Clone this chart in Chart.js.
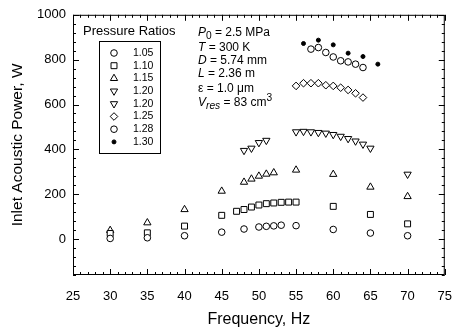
<!DOCTYPE html>
<html lang="en">
<head>
<meta charset="UTF-8">
<title>Inlet Acoustic Power vs Frequency</title>
<script src="https://cdn.jsdelivr.net/npm/chart.js"></script>
<style>
  body { margin: 0; background: #fff; }
  #wrap { width: 466px; height: 331px; }
</style>
</head>
<body>
<div id="wrap"><canvas id="powerChart"></canvas></div>
<script>
// data
const ratioLabels = ['1.05', '1.10', '1.15', '1.20', '1.20', '1.25', '1.28', '1.30'];

const freq105 = [30, 35, 40, 45, 48, 50, 51, 52, 53, 55, 60, 65, 70];
const power105 = [3, 6, 15, 31, 45, 54, 57, 59, 62, 60, 43, 27, 15];

const freq110 = [30, 35, 40, 45, 47, 48, 49, 50, 51, 52, 53, 54, 55, 60, 65, 70];
const power110 = [25, 28, 58, 106, 124, 132, 143, 152, 158, 161, 164, 165, 165, 146, 110, 68];

const freq115 = [30, 35, 40, 45, 48, 49, 50, 51, 52, 55, 60, 65, 70];
const power115 = [39, 73, 132, 214, 254, 268, 281, 290, 296, 308, 289, 232, 190];

const freq120a = [48, 49, 50, 51, 70];
const power120a = [395, 405, 430, 440, 289];

const freq120b = [55, 56, 57, 58, 59, 60, 61, 62, 63, 64, 65];
const power120b = [478, 480, 478, 475, 472, 466, 458, 448, 437, 423, 405];

const freq125 = [55, 56, 57, 58, 59, 60, 61, 62, 63, 64];
const power125 = [683, 695, 695, 695, 686, 683, 675, 665, 650, 631];

const freq128 = [57, 58, 59, 60, 61, 62, 63, 64];
const power128 = [847, 854, 832, 812, 795, 790, 780, 765];

const freq130 = [56, 58, 60, 62, 64, 66];
const power130 = [872, 887, 866, 829, 814, 780];

const yTickValues = [0, 200, 400, 600, 800, 1000];

const FONT = "'Liberation Sans', Arial, sans-serif";

function pts(xs, ys) {
  return xs.map((x, i) => ({ x: x, y: ys[i] }));
}

function series(label, xs, ys, style, radius, rotation, filled) {
  return {
    label: label,
    data: pts(xs, ys),
    showLine: false,
    pointStyle: style,
    pointRadius: radius,
    pointRotation: rotation || 0,
    pointBorderWidth: 1,
    pointBorderColor: '#000',
    pointBackgroundColor: filled ? '#000' : '#fff'
  };
}

const datasets = [
  series(ratioLabels[0], freq105, power105, 'circle', 3.3),
  series(ratioLabels[1], freq110, power110, 'rect', 4.2),
  series(ratioLabels[2], freq115, power115, 'triangle', 4.2),
  series(ratioLabels[3], freq120a, power120a, 'triangle', 4.2, 180),
  series(ratioLabels[4], freq120b, power120b, 'triangle', 4.2, 180),
  series(ratioLabels[5], freq125, power125, 'rectRot', 3.8),
  series(ratioLabels[6], freq128, power128, 'circle', 3.3),
  series(ratioLabels[7], freq130, power130, 'circle', 2, 0, true)
];

// inward ticks on all four sides plus the frame
const frameTicks = {
  id: 'frameTicks',
  afterDraw(chart) {
    const ctx = chart.ctx, a = chart.chartArea;
    const xs = chart.scales.x, ys = chart.scales.y;
    ctx.save();
    ctx.strokeStyle = '#000';
    ctx.lineWidth = 1;
    ctx.strokeRect(a.left + 0.5, a.top + 0.5, a.right - a.left - 1, a.bottom - a.top - 1);
    ctx.beginPath();
    for (let f = 25; f <= 75; f++) {
      const px = Math.round(xs.getPixelForValue(f)) + 0.5;
      const len = f % 5 === 0 ? 6 : 3;
      ctx.moveTo(px, a.bottom); ctx.lineTo(px, a.bottom - len);
      ctx.moveTo(px, a.top); ctx.lineTo(px, a.top + len);
    }
    for (let v = -160; v <= 1000; v += 40) {
      const py = Math.round(ys.getPixelForValue(v)) + 0.5;
      const len = v % 200 === 0 ? 6 : 3;
      ctx.moveTo(a.left, py); ctx.lineTo(a.left + len, py);
      ctx.moveTo(a.right, py); ctx.lineTo(a.right - len, py);
    }
    ctx.stroke();
    ctx.restore();
  }
};

// draws a line of text made of pieces (italic / subscript / superscript)
function richLine(ctx, x, y, parts, size) {
  let cx = x;
  parts.forEach(p => {
    const fs = p.sub || p.sup ? size * 0.85 : size;
    ctx.font = (p.it ? 'italic ' : '') + fs + 'px ' + FONT;
    const dy = p.sub ? size * 0.3 : (p.sup ? -size * 0.4 : 0);
    ctx.fillText(p.t, cx, y + dy);
    cx += ctx.measureText(p.t).width;
  });
}

const notes = [
  [{ t: 'P', it: true }, { t: '0', sub: true }, { t: ' = 2.5 MPa' }],
  [{ t: 'T', it: true }, { t: ' = 300 K' }],
  [{ t: 'D', it: true }, { t: ' = 5.74 mm' }],
  [{ t: 'L', it: true }, { t: ' = 2.36 m' }],
  [{ t: '\u03b5 = 1.0 \u03bcm' }],
  [{ t: 'V', it: true }, { t: 'res', it: true, sub: true }, { t: ' = 83 cm' }, { t: '3', sup: true }]
];
const noteY = [33, 47.5, 61, 74, 88.5, 103];

const legendAndNotes = {
  id: 'legendAndNotes',
  afterDraw(chart) {
    const ctx = chart.ctx;
    ctx.save();
    ctx.fillStyle = '#000';
    ctx.textBaseline = 'middle';
    ctx.textAlign = 'left';
    ctx.font = '13px ' + FONT;
    ctx.fillText('Pressure Ratios', 83, 31);
    ctx.strokeStyle = '#000';
    ctx.lineWidth = 1;
    ctx.strokeRect(99.5, 41.5, 61, 112);
    ctx.font = '10.5px ' + FONT;
    chart.data.datasets.forEach((ds, i) => {
      const y = 53 + i * 12.7;
      const o = chart.getDatasetMeta(i).data[0].options;
      ctx.lineWidth = 1;
      ctx.strokeStyle = '#000';
      ctx.fillStyle = o.backgroundColor;
      Chart.helpers.drawPoint(ctx, {
        pointStyle: o.pointStyle, radius: o.radius, rotation: o.rotation, borderWidth: 1
      }, 114, y);
      ctx.fillStyle = '#000';
      ctx.font = '10.5px ' + FONT;
      ctx.fillText(ds.label, 133, y);
    });
    notes.forEach((parts, i) => richLine(ctx, 198, noteY[i], parts, 12));
    ctx.restore();
  }
};

new Chart(document.getElementById('powerChart'), {
  type: 'scatter',
  data: { datasets: datasets },
  options: {
    responsive: true,
    maintainAspectRatio: false,
    animation: false,
    layout: { padding: { left: 0, right: 11, top: 13, bottom: 0 } },
    plugins: { legend: { display: false }, tooltip: { enabled: false } },
    scales: {
      x: {
        type: 'linear',
        min: 25, max: 75,
        grid: { display: false, drawTicks: false },
        border: { display: false },
        ticks: { stepSize: 5, padding: 14, color: '#000', font: { family: FONT, size: 13 } },
        title: { display: true, text: 'Frequency, Hz', color: '#000', font: { family: FONT, size: 16 }, padding: { top: 4, bottom: 2 } },
        afterFit: s => { s.height = 56; }
      },
      y: {
        type: 'linear',
        min: -160, max: 1000,
        grid: { display: false, drawTicks: false },
        border: { display: false },
        afterBuildTicks: s => { s.ticks = yTickValues.map(v => ({ value: v })); },
        ticks: { padding: 7, color: '#000', font: { family: FONT, size: 13 }, callback: v => String(v) },
        title: { display: true, text: 'Inlet Acoustic Power, W', color: '#000', font: { family: FONT, size: 15.5 }, padding: { top: 8, bottom: 4 } },
        afterFit: s => { s.width = 73; }
      }
    }
  },
  plugins: [frameTicks, legendAndNotes]
});
</script>
</body>
</html>
